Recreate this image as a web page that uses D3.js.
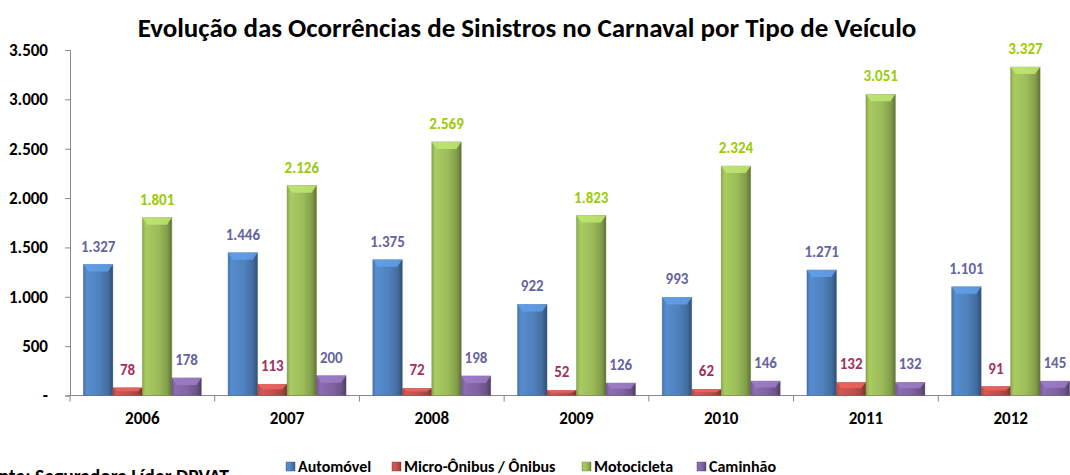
<!DOCTYPE html>
<html>
<head>
<meta charset="utf-8">
<script src="https://cdn.jsdelivr.net/npm/d3@7"></script>
<style>
  html, body { margin: 0; padding: 0; background: #fff; overflow: hidden; }
  svg { display: block; font-family: Carlito, Lato, "Open Sans", sans-serif; }
</style>
</head>
<body>
<div id="chart"></div>
<script>
const years = ["2006", "2007", "2008", "2009", "2010", "2011", "2012"];
const seriesNames = ["Automóvel", "Micro-Ônibus / Ônibus", "Motocicleta", "Caminhão"];
const automovel = [1327, 1446, 1375, 922, 993, 1271, 1101];
const microOnibus = [78, 113, 72, 52, 62, 132, 91];
const motocicleta = [1801, 2126, 2569, 1823, 2324, 3051, 3327];
const caminhao = [178, 200, 198, 126, 146, 132, 145];
const yTicks = [0, 500, 1000, 1500, 2000, 2500, 3000, 3500];

const barColors = ["#4F81BD", "#C0504D", "#9BBB59", "#8064A2"];
const labelColors = ["#64649E", "#A3305C", "#99CC00", "#64649E"];

const width = 1070, height = 475;
const margin = { top: 50, left: 70, bottom: 79 };
const plotRight = 1083;

const ptBR = d3.formatLocale({ decimal: ",", thousands: ".", grouping: [3], currency: ["R$", ""] });
const fmt = ptBR.format(",d");

const allSeries = [automovel, microOnibus, motocicleta, caminhao];

const svg = d3.select("#chart").append("svg")
  .attr("width", width)
  .attr("height", height);

const defs = svg.append("defs");
barColors.forEach((c, i) => {
  const g = defs.append("linearGradient").attr("id", "grad" + i)
    .attr("x1", "0").attr("x2", "1").attr("y1", "0").attr("y2", "0");
  const base = d3.color(c);
  g.append("stop").attr("offset", "0").attr("stop-color", base.darker(0.3));
  g.append("stop").attr("offset", "0.12").attr("stop-color", base.brighter(0.25));
  g.append("stop").attr("offset", "0.55").attr("stop-color", base);
  g.append("stop").attr("offset", "0.85").attr("stop-color", base.darker(0.5));
  g.append("stop").attr("offset", "1").attr("stop-color", base.darker(1.4));
});

const x0 = d3.scaleBand()
  .domain(years)
  .range([margin.left, plotRight])
  .paddingInner(0.185)
  .paddingOuter(0.0925);

const x1 = d3.scaleBand()
  .domain(d3.range(seriesNames.length))
  .range([0, x0.bandwidth()]);

const y = d3.scaleLinear()
  .domain([0, 3500])
  .range([height - margin.bottom - 0.5, margin.top]);

// title
svg.append("text")
  .attr("x", 527)
  .attr("y", 37)
  .attr("text-anchor", "middle")
  .attr("font-size", 27)
  .attr("font-weight", "bold")
  .text("Evolução das Ocorrências de Sinistros no Carnaval por Tipo de Veículo");

// y axis
const yAxis = svg.append("g")
  .attr("transform", `translate(${margin.left},0)`)
  .call(d3.axisLeft(y).tickValues(yTicks).tickSize(5).tickPadding(17)
    .tickFormat(d => d === 0 ? "-" : fmt(d)));
yAxis.select(".domain").attr("stroke", "#888");
yAxis.selectAll(".tick line").attr("stroke", "#888");
yAxis.selectAll(".tick text")
  .attr("font-size", 17)
  .attr("font-weight", "bold")
  .attr("fill", "#000")
  .attr("font-family", "Carlito, Lato, sans-serif");

// x axis with category boundary ticks
const step = x0.step();
const xAxisG = svg.append("g").attr("transform", `translate(0,${y(0)})`);
xAxisG.append("line")
  .attr("x1", margin.left).attr("x2", plotRight)
  .attr("stroke", "#888");
xAxisG.selectAll("line.tick").data(d3.range(years.length + 1))
  .join("line").attr("class", "tick")
  .attr("x1", i => margin.left + i * step)
  .attr("x2", i => margin.left + i * step)
  .attr("y1", 0).attr("y2", 6)
  .attr("stroke", "#888");
xAxisG.selectAll("text").data(years)
  .join("text")
  .attr("x", d => x0(d) + x0.bandwidth() / 2)
  .attr("y", 28)
  .attr("text-anchor", "middle")
  .attr("font-size", 17)
  .attr("font-weight", "bold")
  .text(d => d);

// bars
const groups = svg.selectAll("g.year").data(years)
  .join("g")
  .attr("class", "year")
  .attr("transform", d => `translate(${x0(d)},0)`);

groups.each(function (year, yi) {
  const g = d3.select(this);
  allSeries.forEach((vals, si) => {
    const v = vals[yi];
    const bx = x1(si), bw = x1.bandwidth();
    const top = y(v), h = y(0) - top;
    const base = d3.color(barColors[si]);
    g.append("rect")
      .attr("x", bx).attr("y", top)
      .attr("width", bw).attr("height", h)
      .attr("fill", `url(#grad${si})`)
      .attr("stroke", base.darker(0.8))
      .attr("stroke-opacity", 0.5)
      .attr("stroke-width", 0.8);
    const bev = Math.min(7, h * 0.45);
    g.append("path")
      .attr("d", `M${bx},${top} L${bx + bw},${top} L${bx + bw - 5},${top + bev} L${bx + 5},${top + bev} Z`)
      .attr("fill", base.brighter(0.6))
      .attr("opacity", 0.85);
    g.append("text")
      .attr("x", bx + bw / 2)
      .attr("y", top - 13)
      .attr("text-anchor", "middle")
      .attr("font-size", 15)
      .attr("font-weight", "bold")
      .attr("fill", labelColors[si])
      .text(fmt(v));
  });
});

// legend
const legendX = [286, 392, 582, 697];
const legend = svg.selectAll("g.legend").data(seriesNames)
  .join("g")
  .attr("class", "legend")
  .attr("transform", (d, i) => `translate(${legendX[i]},462)`);
legend.append("rect")
  .attr("width", 9).attr("height", 9)
  .attr("fill", (d, i) => `url(#grad${i})`)
  .attr("stroke", (d, i) => d3.color(barColors[i]).darker(0.5))
  .attr("stroke-width", 0.5);
legend.append("text")
  .attr("x", 12)
  .attr("y", 10)
  .attr("font-size", 16)
  .attr("font-weight", "bold")
  .text(d => d);

// source (partly cut off at the left/bottom edge, as in the original)
svg.append("text")
  .attr("x", 229)
  .attr("y", 483)
  .attr("text-anchor", "end")
  .attr("font-size", 19.5)
  .attr("font-weight", "bold")
  .text("Fonte: Seguradora Líder DPVAT");
</script>
</body>
</html>
